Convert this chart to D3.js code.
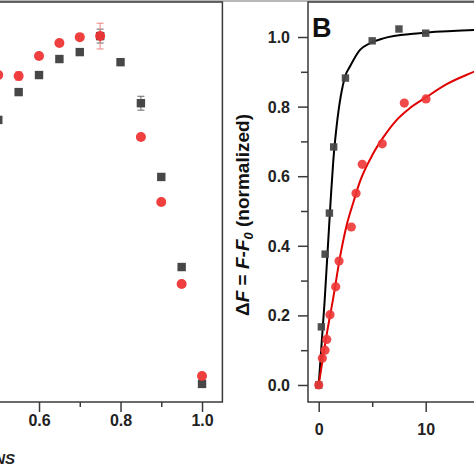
<!DOCTYPE html>
<html><head><meta charset="utf-8">
<script src="https://cdn.jsdelivr.net/npm/d3@7"></script>
<style>
html,body{margin:0;padding:0;background:#fff;overflow:hidden}
svg{display:block;font-family:"Liberation Sans",Arial,sans-serif}
</style></head>
<body>
<svg id="c" width="474" height="474"></svg>
<script>
// ---------- Panel A data (visible part) ----------
const aX = [0.5, 0.55, 0.6, 0.65, 0.7, 0.75, 0.8, 0.85, 0.9, 0.95, 1.0];
const aGray = [0.759, 0.839, 0.888, 0.934, 0.954, 1.0, 0.925, 0.807, 0.595, 0.336, 0.0];
const aGrayErr = [0, 0, 0, 0, 0, 0.02, 0, 0.02, 0, 0, 0];
const aRedX = [0.5, 0.55, 0.6, 0.65, 0.7, 0.75, 0.85, 0.9, 0.95, 1.0];
const aRed = [0.888, 0.885, 0.943, 0.980, 0.997, 1.0, 0.710, 0.523, 0.287, 0.023];
const aRedErr = [0, 0.012, 0, 0, 0, 0.037, 0, 0, 0, 0];
const aTicks = [0.6, 0.8, 1.0];
const aMinor = [0.5, 0.7, 0.9];

// ---------- Panel B data ----------
const bGrayX = [0, 0.25, 0.6, 1.0, 1.4, 2.5, 5, 7.5, 10];
const bGrayY = [0, 0.167, 0.376, 0.494, 0.684, 0.882, 0.989, 1.023, 1.011];
const bRedX = [0, 0.34, 0.59, 0.75, 1.06, 1.59, 1.9, 3.05, 3.49, 4.07, 5.94, 8.0, 10.03];
const bRedY = [0, 0.077, 0.10, 0.131, 0.202, 0.282, 0.356, 0.454, 0.551, 0.634, 0.693, 0.810, 0.822];
// fitted curves
const fitBlackX = [0, 0.56, 1.12, 1.37, 1.74, 2.46, 2.92, 3.86, 4.79, 6.04, 9.15, 14.46, 16];
const fitBlackY = [0, 0.244, 0.532, 0.647, 0.761, 0.886, 0.915, 0.963, 0.982, 0.996, 1.01, 1.02, 1.022];
const fitRedX = [0, 0.77, 1.38, 2.0, 2.62, 3.24, 3.86, 5.0, 6.0, 7.3, 8.5, 10.1, 12.0, 14.5, 16];
const fitRedY = [0, 0.149, 0.254, 0.369, 0.46, 0.525, 0.585, 0.66, 0.71, 0.762, 0.795, 0.828, 0.865, 0.90, 0.92];
const bYTicks = [0, 0.2, 0.4, 0.6, 0.8, 1.0];
const bYMinor = [0.1, 0.3, 0.5, 0.7, 0.9];
const bXTicks = [0, 10];
const bXMinor = [5, 15];

const RED = "#ee3535", GRAY = "#474747";
const svg = d3.select("#c");

// top light border
svg.append("rect").attr("x", 0).attr("y", 0).attr("width", 474).attr("height", 2).attr("fill", "#b8b8b8");

// ================= Panel A =================
const xA = d3.scaleLinear().domain([0.45, 1.05]).range([-22.1, 222.4]);
const yA = d3.scaleLinear().domain([-0.052, 1.098]).range([402, 2]);
const gA = svg.append("g");
gA.append("rect").attr("x", xA(0.45)).attr("y", yA(1.098)).attr("width", xA(1.05) - xA(0.45))
  .attr("height", yA(-0.052) - yA(1.098)).attr("fill", "none").attr("stroke", "#3a3a3a").attr("stroke-width", 1.5);

const axA = gA.append("g").attr("transform", `translate(0,${yA(-0.052)})`)
  .call(d3.axisBottom(xA).tickValues(aTicks).tickSize(10).tickSizeOuter(0).tickFormat(d3.format(".1f")));
const axAm = gA.append("g").attr("transform", `translate(0,${yA(-0.052)})`)
  .call(d3.axisBottom(xA).tickValues(aMinor).tickSize(5).tickSizeOuter(0).tickFormat(""));
[axA, axAm].forEach(a => { a.select(".domain").remove(); a.selectAll("line").attr("stroke", "#3a3a3a").attr("stroke-width", 1.5); });
axA.selectAll("text").attr("font-size", 16).attr("font-weight", "bold").attr("fill", "#222").attr("dy", "0.7em");

gA.append("text").attr("x", 15).attr("y", 464).attr("text-anchor", "end")
  .attr("font-size", 15).attr("font-weight", "bold").attr("font-style", "italic").attr("fill", "#222")
  .text("χWNS");

// error bars
function errBars(g, xs, ys, es, xs_, ys_, color, cap) {
  xs.forEach((x, i) => {
    if (!es[i]) return;
    const cx = xs_(x), y1 = ys_(ys[i] - es[i]), y2 = ys_(ys[i] + es[i]);
    g.append("line").attr("x1", cx).attr("x2", cx).attr("y1", y1).attr("y2", y2).attr("stroke", color).attr("stroke-width", 1);
    [y1, y2].forEach(yy => g.append("line").attr("x1", cx - cap).attr("x2", cx + cap).attr("y1", yy).attr("y2", yy).attr("stroke", color).attr("stroke-width", 1));
  });
}
errBars(gA, aX, aGray, aGrayErr, xA, yA, "#666", 3.5);
gA.selectAll(".sqA").data(aX).enter().append("rect")
  .attr("x", (d) => xA(d) - 4.2).attr("y", (d, i) => yA(aGray[i]) - 4.2).attr("width", 8.4).attr("height", 8.4).attr("fill", GRAY);
errBars(gA, aRedX, aRed, aRedErr, xA, yA, "#f08080", 3.5);
gA.selectAll(".ciA").data(aRedX).enter().append("circle")
  .attr("cx", d => xA(d)).attr("cy", (d, i) => yA(aRed[i])).attr("r", 5).attr("fill", RED).attr("fill-opacity", 0.95);

// ================= Panel B =================
const xB = d3.scaleLinear().domain([-1, 16]).range([308, 489.9]);
const yB = d3.scaleLinear().domain([-0.0489, 1.1006]).range([402, 2]);
const gB = svg.append("g");
gB.append("rect").attr("x", xB(-1)).attr("y", yB(1.1006)).attr("width", xB(16) - xB(-1))
  .attr("height", yB(-0.0489) - yB(1.1006)).attr("fill", "none").attr("stroke", "#3a3a3a").attr("stroke-width", 1.5);

const axBx = gB.append("g").attr("transform", `translate(0,${yB(-0.0489)})`)
  .call(d3.axisBottom(xB).tickValues(bXTicks).tickSize(10).tickSizeOuter(0).tickFormat(d3.format("d")));
const axBxm = gB.append("g").attr("transform", `translate(0,${yB(-0.0489)})`)
  .call(d3.axisBottom(xB).tickValues(bXMinor).tickSize(5).tickSizeOuter(0).tickFormat(""));
const axBy = gB.append("g").attr("transform", `translate(${xB(-1)},0)`)
  .call(d3.axisLeft(yB).tickValues(bYTicks).tickSize(10).tickSizeOuter(0).tickFormat(d3.format(".1f")));
const axBym = gB.append("g").attr("transform", `translate(${xB(-1)},0)`)
  .call(d3.axisLeft(yB).tickValues(bYMinor).tickSize(7).tickSizeOuter(0).tickFormat(""));
[axBx, axBxm, axBy, axBym].forEach(a => { a.select(".domain").remove(); a.selectAll("line").attr("stroke", "#3a3a3a").attr("stroke-width", 1.5); });
axBx.selectAll("text").attr("font-size", 16).attr("font-weight", "bold").attr("fill", "#222").attr("dy", "1.25em");
axBy.selectAll("text").attr("font-size", 16).attr("font-weight", "bold").attr("fill", "#222").attr("x", -18).attr("dy", "0.35em");

// panel letter
gB.append("text").attr("x", 312).attr("y", 37).attr("font-size", 27).attr("font-weight", "bold").attr("fill", "#111").text("B");

// y label
const yl = gB.append("text").attr("transform", "translate(249,215) rotate(-90)").attr("text-anchor", "middle")
  .attr("font-size", 19).attr("font-weight", "bold").attr("fill", "#111");
yl.append("tspan").text("Δ");
yl.append("tspan").attr("font-style", "italic").text("F");
yl.append("tspan").text(" = ");
yl.append("tspan").attr("font-style", "italic").text("F");
yl.append("tspan").text("-");
yl.append("tspan").attr("font-style", "italic").text("F");
yl.append("tspan").attr("font-style", "italic").attr("font-size", 13).attr("dy", 4).text("0");
yl.append("tspan").attr("dy", -4).text(" (normalized)");

// clip for plot area
svg.append("clipPath").attr("id", "clipB").append("rect")
  .attr("x", xB(-1)).attr("y", yB(1.1006)).attr("width", xB(16) - xB(-1)).attr("height", yB(-0.0489) - yB(1.1006));
const plotB = gB.append("g").attr("clip-path", "url(#clipB)");

const line = d3.line().x(d => xB(d[0])).y(d => yB(d[1])).curve(d3.curveMonotoneX);
plotB.append("path").attr("d", line(fitBlackX.map((x, i) => [x, fitBlackY[i]])))
  .attr("fill", "none").attr("stroke", "#000").attr("stroke-width", 2);
plotB.append("path").attr("d", line(fitRedX.map((x, i) => [x, fitRedY[i]])))
  .attr("fill", "none").attr("stroke", "#e00000").attr("stroke-width", 2);

plotB.selectAll(".sqB").data(bGrayX).enter().append("rect")
  .attr("x", d => xB(d) - 3.7).attr("y", (d, i) => yB(bGrayY[i]) - 3.7).attr("width", 7.4).attr("height", 7.4).attr("fill", GRAY).attr("fill-opacity", 0.95);
plotB.selectAll(".ciB").data(bRedX).enter().append("circle")
  .attr("cx", d => xB(d)).attr("cy", (d, i) => yB(bRedY[i])).attr("r", 4.6).attr("fill", RED).attr("fill-opacity", 0.9);
</script>
</body></html>
